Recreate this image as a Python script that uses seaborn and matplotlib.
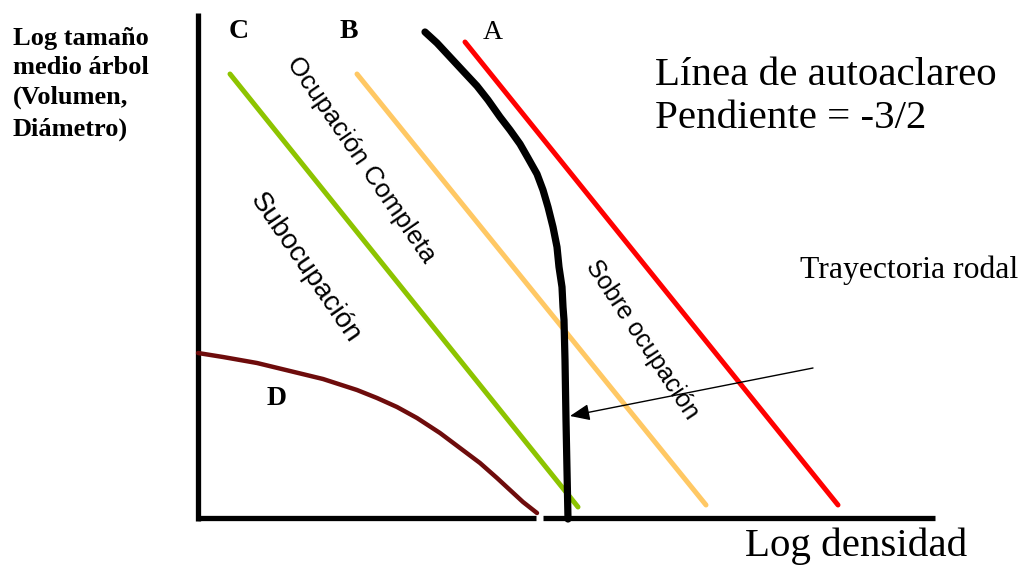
import matplotlib
matplotlib.use("Agg")
import matplotlib.pyplot as plt
import seaborn as sns

sns.set_theme(style="white")
plt.rcParams['font.family'] = ['Liberation Serif', 'DejaVu Serif']
plt.rcParams['text.color'] = 'black'

# Diagram coordinates (horizontal = log density, vertical = log mean tree size,
# measured in diagram units, vertical axis grows downward)
linea_A_x = [465, 838]
linea_A_y = [42, 505]
linea_B_x = [357, 706]
linea_B_y = [74, 505]
linea_C_x = [230, 578]
linea_C_y = [74, 507]
curva_D_x = [198, 223, 257, 290, 323, 357, 377, 397, 417, 440, 460, 480, 497, 510, 523, 537]
curva_D_y = [353, 357, 363, 371, 379, 390, 398, 407, 418, 433, 448, 463, 478, 490, 502, 513]
trayectoria_x = [425, 437, 450, 463, 477, 488, 500, 510, 520, 528, 537, 543, 548, 553,
                 557, 559, 562, 563, 564, 565, 566, 567, 568]
trayectoria_y = [32, 43, 57, 71, 86, 100, 117, 130, 144, 158, 174, 190, 207, 227,
                 247, 267, 287, 307, 320, 360, 420, 470, 519]

eje_x_x = [198, 536, 543, 935]
eje_y_y = [13, 521]

fig = plt.figure(figsize=(10.26, 5.65), dpi=100)
ax = fig.add_axes([0, 0, 1, 1])
ax.set_xlim(0, 1026)
ax.set_ylim(565, 0)
ax.axis('off')

# axes
ax.plot([eje_x_x[0], eje_x_x[1]], [518, 518], color='black', lw=3.8, solid_capstyle='butt')
ax.plot([eje_x_x[2], eje_x_x[3]], [518, 518], color='black', lw=3.8, solid_capstyle='butt')
ax.plot([198, 198], eje_y_y, color='black', lw=3.8, solid_capstyle='butt')

sns.lineplot(x=linea_C_x, y=linea_C_y, ax=ax, color='#8DC400', lw=3.6, sort=False, estimator=None)
sns.lineplot(x=linea_B_x, y=linea_B_y, ax=ax, color='#FFC864', lw=3.6, sort=False, estimator=None)
sns.lineplot(x=linea_A_x, y=linea_A_y, ax=ax, color='#FF0000', lw=3.6, sort=False, estimator=None)
sns.lineplot(x=curva_D_x, y=curva_D_y, ax=ax, color='#6E0C0C', lw=3.2, sort=False, estimator=None)
sns.lineplot(x=trayectoria_x, y=trayectoria_y, ax=ax, color='black', lw=5.2, sort=False, estimator=None)
for l in ax.lines[3:]:
    l.set_solid_capstyle('round')
    l.set_solid_joinstyle('round')

# arrow
ax.annotate('', xy=(570, 416), xytext=(813, 368),
            arrowprops=dict(arrowstyle='-|>,head_length=0.6,head_width=0.25', color='black', lw=1.0,
                            mutation_scale=20, shrinkA=0, shrinkB=0))

serif = ['Liberation Serif', 'DejaVu Serif']
sans = ['Liberation Sans', 'DejaVu Sans']

ylab = ["Log tamaño", "medio árbol", "(Volumen,", "Diámetro)"]
ybase = [45, 74, 104, 136]
for t, yb in zip(ylab, ybase):
    ax.text(13, yb, t, fontsize=19, fontweight='bold', family=serif, ha='left', va='baseline')

ax.text(239, 38, "C", fontsize=20, fontweight='bold', family=serif, ha='center', va='baseline')
ax.text(349, 38, "B", fontsize=20, fontweight='bold', family=serif, ha='center', va='baseline')
ax.text(493, 39, "A", fontsize=20, family=serif, ha='center', va='baseline')
ax.text(277, 405, "D", fontsize=20, fontweight='bold', family=serif, ha='center', va='baseline')

ax.text(655, 85, "Línea de autoaclareo", fontsize=29.5, family=serif, ha='left', va='baseline')
ax.text(655, 128, "Pendiente = -3/2", fontsize=29.5, family=serif, ha='left', va='baseline')
ax.text(800, 278, "Trayectoria rodal", fontsize=22.8, family=serif, ha='left', va='baseline')
ax.text(745, 556, "Log densidad", fontsize=29.5, family=serif, ha='left', va='baseline')

ax.text(361, 160, "Ocupación Completa", fontsize=18.8, family=sans, rotation=-55.5,
        rotation_mode='anchor', ha='center', va='center')
ax.text(305, 268, "Subocupación", fontsize=20, family=sans, rotation=-55.5,
        rotation_mode='anchor', ha='center', va='center')
ax.text(642, 340, "Sobre ocupación", fontsize=17.8, family=sans, rotation=-56.5,
        rotation_mode='anchor', ha='center', va='center')

fig.savefig("out.png", dpi=100, facecolor='white')
